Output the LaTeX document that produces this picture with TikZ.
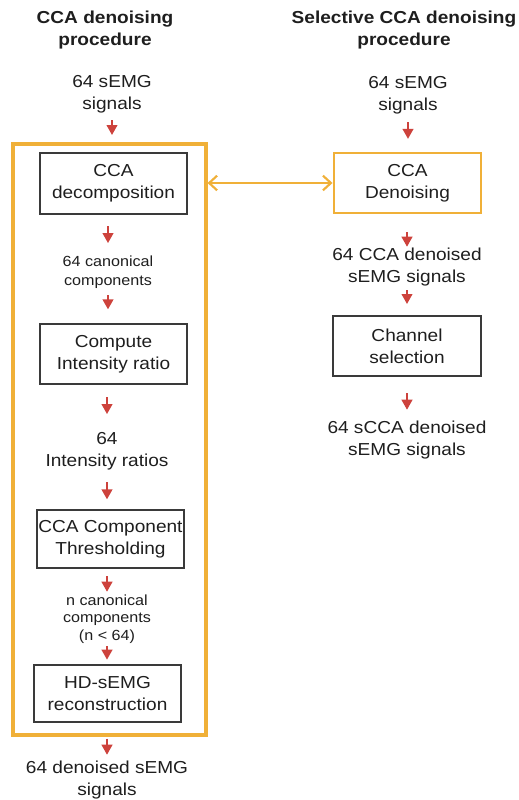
\documentclass[tikz,border=0pt]{standalone}
\usepackage{fontspec}
\setmainfont{Liberation Sans}[FakeStretch=1.1]
\usetikzlibrary{arrows.meta}
\definecolor{orng}{HTML}{F0B038}
\definecolor{redarr}{HTML}{CD423C}
\definecolor{boxgray}{HTML}{3A3A3A}
\definecolor{txt}{HTML}{1E1E1E}
\newcommand\bigtxt{\fontsize{13pt}{16.5pt}\selectfont}
\newcommand\smalltxt{\fontsize{11pt}{14pt}\selectfont}
\newcommand\titletxt{\fontsize{13pt}{17pt}\selectfont\bfseries}
\begin{document}
\begin{tikzpicture}[x=0.75pt,y=-0.75pt,
  every node/.style={text=txt},
  stepbox/.style={draw=boxgray,line width=2pt,minimum width=110.25pt,minimum height=45pt,inner sep=0pt,align=center,font=\bigtxt},
  obox/.style={stepbox,draw=orng,line width=2.2pt},
  label2/.style={inner sep=0pt,align=center,minimum height=33pt,font=\bigtxt},
  slabel/.style={inner sep=0pt,align=center,minimum height=30pt,font=\smalltxt},
  ttl/.style={inner sep=0pt,align=center,font=\titletxt},
  flow/.style={draw=redarr,line width=1.5pt,-{Triangle[length=7.5pt,width=8pt]}},
  link/.style={draw=orng,line width=1.6pt,{Straight Barb[length=6pt,width=11pt,line width=1.6pt]}-{Straight Barb[length=6pt,width=11pt,line width=1.6pt]}}
]
\useasboundingbox (0,0) rectangle (518,800);

% left column
\node[ttl] (ltitle) at (105,30) {CCA denoising\\procedure};
\node[label2] (lin) at (112,94) {64 sEMG\\signals};
\node[draw=orng,line width=2.3pt,minimum width=144.75pt,minimum height=443.25pt,inner sep=0pt] (big) at (109.5,439.5) {};
\node[stepbox,minimum height=45.75pt] (b1) at (113.5,183.5) {CCA\\decomposition};
\node[slabel] (t2) at (108,272) {64 canonical\\components};
\node[stepbox] (b2) at (113.5,354) {Compute\\Intensity ratio};
\node[label2] (t3) at (107,451) {64\\Intensity ratios};
\node[stepbox,minimum height=43.5pt] (b3) at (110.5,539) {CCA Component\\Thresholding};
\node[slabel,minimum height=37.5pt,font=\fontsize{11pt}{13pt}\selectfont] (t4) at (107,619) {n canonical\\components\\(n < 64)};
\node[stepbox,minimum height=42.75pt] (b4) at (107.5,693.5) {HD-sEMG\\reconstruction};
\node[label2] (lout) at (107,780) {64 denoised sEMG\\signals};

\draw[flow,shorten <=3pt,shorten >=12.5pt] (lin) -- (lin |- b1.north);
\draw[flow,shorten <=8pt,shorten >=6.5pt] (b1.south -| t2) -- (t2);
\draw[flow,shorten <=2.25pt,shorten >=10pt] (t2) -- (t2 |- b2.north);
\draw[flow,shorten <=9pt,shorten >=11pt] (b2.south -| t3) -- (t3);
\draw[flow,shorten <=6.75pt,shorten >=7pt] (t3) -- (t3 |- b3.north);
\draw[flow,shorten <=5pt,shorten >=1.5pt] (b3.south -| t4) -- (t4);
\draw[flow,shorten <=1.5pt,shorten >=3pt] (t4) -- (t4 |- b4.north);
\draw[flow,shorten <=1.5pt,shorten >=2.25pt] (big.south -| lout) -- (lout);

% right column
\node[ttl] (rtitle) at (404,30) {Selective CCA denoising\\procedure};
\node[label2] (rin) at (408,95) {64 sEMG\\signals};
\node[obox] (r1) at (407.5,183) {CCA\\Denoising};
\node[label2,minimum height=30pt] (rt2) at (407,267) {64 CCA denoised\\sEMG signals};
\node[stepbox,minimum width=111pt] (r2) at (407,346) {Channel\\selection};
\node[label2,minimum height=30pt] (rt3) at (407,440) {64 sCCA denoised\\sEMG signals};

\draw[flow,shorten <=3.75pt,shorten >=9.5pt] (rin) -- (rin |- r1.north);
\draw[flow,shorten <=13.5pt,shorten >=0pt] (r1.south -| rt2) -- (rt2);
\draw[flow,shorten <=2.25pt,shorten >=8pt] (rt2) -- (rt2 |- r2.north);
\draw[flow,shorten <=12pt,shorten >=7.5pt] (r2.south -| rt3) -- (rt3);

% link between procedures
\draw[link] (r1.west -| big.east) -- (r1.west);
\end{tikzpicture}
\end{document}
